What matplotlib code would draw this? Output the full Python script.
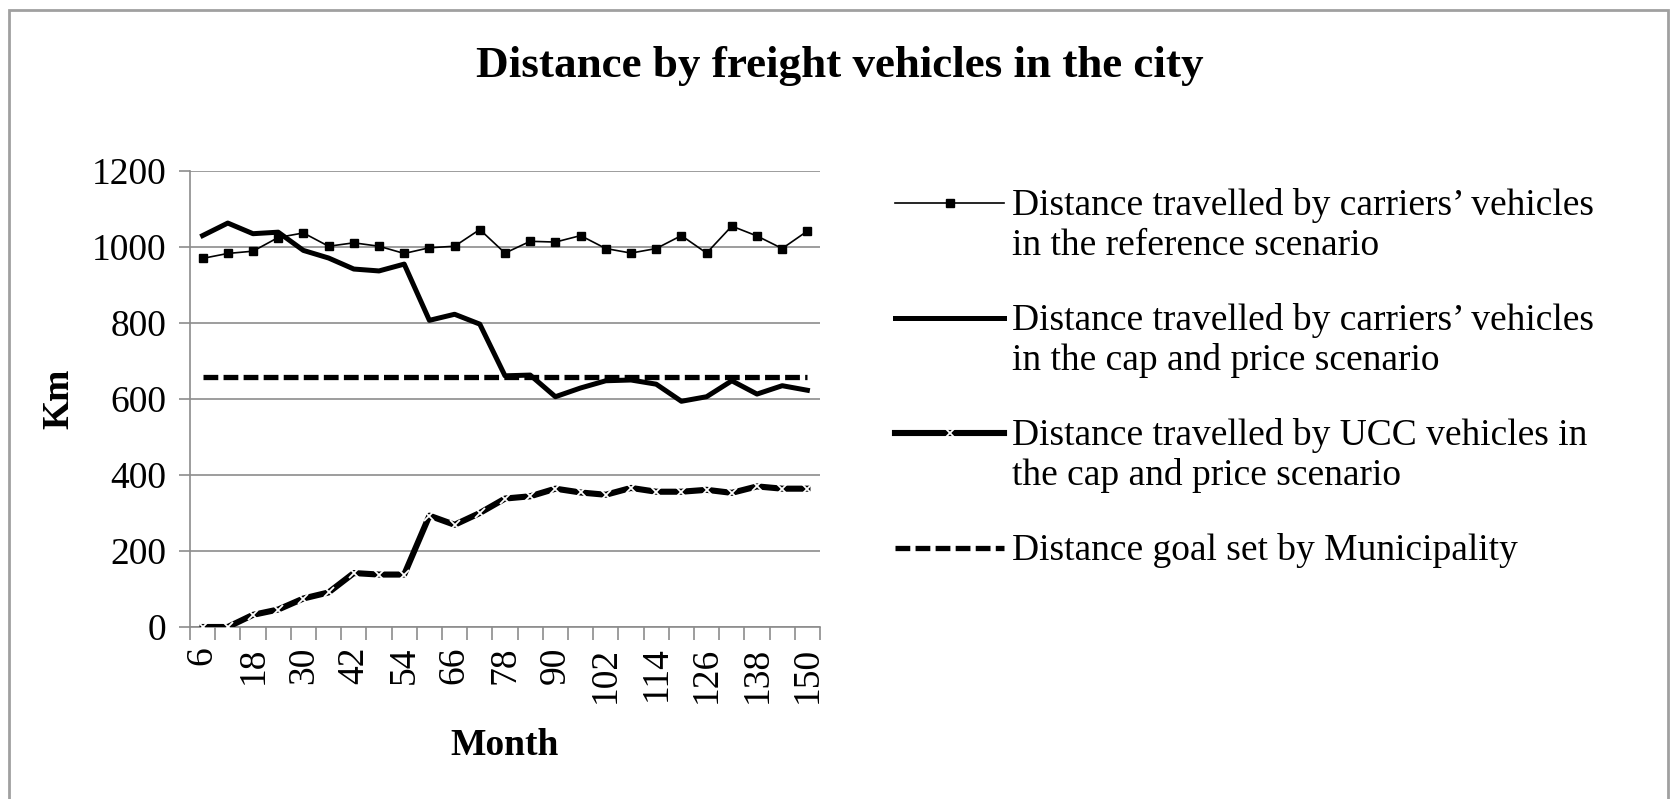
import matplotlib
matplotlib.use("Agg")
import matplotlib.pyplot as plt
from matplotlib.lines import Line2D
from matplotlib.patches import Rectangle

plt.rcParams['font.family'] = ['Liberation Serif', 'DejaVu Serif']

# data (km per month)
months = [6, 12, 18, 24, 30, 36, 42, 48, 54, 60, 66, 72, 78,
          84, 90, 96, 102, 108, 114, 120, 126, 132, 138, 144, 150]
reference = [970, 983, 989, 1025, 1037, 1002, 1011, 1002, 983, 998, 1002, 1046, 984,
             1015, 1013, 1030, 996, 984, 996, 1030, 984, 1055, 1029, 996, 1042]
cap_price = [1030, 1063, 1035, 1039, 991, 971, 942, 937, 955, 807, 823, 797, 661,
             663, 606, 629, 648, 650, 639, 594, 606, 648, 613, 635, 623]
ucc = [0, 0, 32, 46, 75, 91, 142, 138, 138, 293, 269, 300, 338,
       344, 364, 354, 348, 366, 356, 356, 361, 353, 370, 364, 364]
goal = [657, 657, 657, 657, 657, 657, 657, 657, 657, 657, 657, 657, 657,
        657, 657, 657, 657, 657, 657, 657, 657, 657, 657, 657, 657]

labels = [
    "Distance travelled by carriers\u2019 vehicles\nin the reference scenario",
    "Distance travelled by carriers\u2019 vehicles\nin the cap and price scenario",
    "Distance travelled by UCC vehicles in\nthe cap and price scenario",
    "Distance goal set by Municipality",
]

fig = plt.figure(figsize=(16.75, 7.99), dpi=100)
ax = fig.add_axes([190 / 1675, 1 - 627 / 799, 630 / 1675, 456 / 799])

x = list(range(1, len(months) + 1))
grid_col = '#8c8c8c'
fs = 27

styles = [
    dict(color='black', lw=1.2, marker='s', ms=6),
    dict(color='black', lw=3.6),
    dict(color='black', lw=4.4, marker='x', ms=6.5, mec='white', mew=1.3),
    dict(color='black', lw=3.8, linestyle=(0, (2.8, 1.0))),
]

ax.plot(x, goal, zorder=3, **styles[3])
ax.plot(x, reference, zorder=4, **styles[0])
ax.plot(x, cap_price, zorder=5, **styles[1])
ax.plot(x, ucc, zorder=5, **styles[2])

ax.set_xlim(0.5, len(months) + 0.5)
ax.set_ylim(0, 1200)
ax.set_yticks(range(0, 1201, 200))
ax.yaxis.grid(True, color=grid_col, lw=1.2)
ax.set_axisbelow(True)

ax.set_xticks(x[::2])
ax.set_xticklabels([str(m) for m in months[::2]], rotation=90)
ax.set_xticks([i + 0.5 for i in range(0, len(months) + 1)], minor=True)
ax.tick_params(axis='x', which='major', length=0, pad=14, labelsize=fs)
ax.tick_params(axis='x', which='minor', length=9, width=1.2, color=grid_col, direction='out')
ax.tick_params(axis='y', length=8, width=1.2, color=grid_col, direction='out', labelsize=fs, pad=9)

for side in ['top', 'right']:
    ax.spines[side].set_visible(False)
for side in ['left', 'bottom']:
    ax.spines[side].set_color(grid_col)
    ax.spines[side].set_linewidth(1.2)

ax.set_xlabel("Month", fontsize=fs, fontweight='bold', labelpad=18)
ax.set_ylabel("Km", fontsize=fs, fontweight='bold', labelpad=11)

fig.text(840 / 1675, 1 - 66 / 799, "Distance by freight vehicles in the city",
         ha='center', va='center', fontsize=32.5, fontweight='bold')

# legend drawn by hand so the handle sits on the first text line
x0, x1 = 895 / 1675, 1004 / 1675
leg_y = [203, 318, 433, 548]
for lab, st, yy in zip(labels, styles, leg_y):
    fy = 1 - yy / 799
    fig.add_artist(Line2D([x0, (x0 + x1) / 2, x1], [fy, fy, fy], transform=fig.transFigure,
                          markevery=[1], **st))
    fig.text(1012 / 1675, fy + 15 / 799, lab, ha='left', va='top', fontsize=fs,
             linespacing=1.2)

# light grey frame round the chart
fig.add_artist(Rectangle((9 / 1675, -0.05), 1659 / 1675, 1.05 - 10 / 799,
                         transform=fig.transFigure, fill=False, edgecolor='#a0a0a0', lw=2))

fig.savefig("out.png", dpi=100)
